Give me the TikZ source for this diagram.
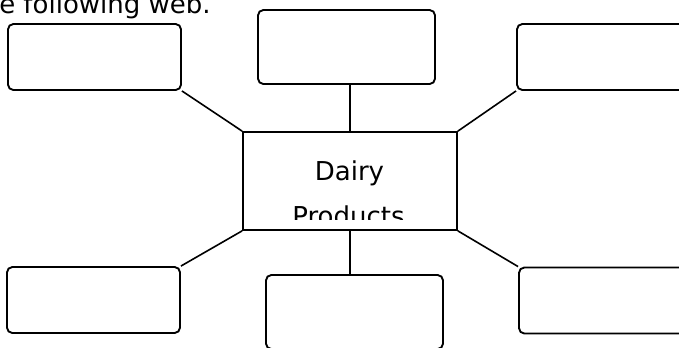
\documentclass[tikz,border=0pt]{standalone}
\usepackage{fontspec}
\setmainfont{DejaVu Sans}

\begin{document}
\begin{tikzpicture}[
    x=0.75pt, y=-0.75pt,
    sidebox/.style={draw, rounded corners=4pt, line width=1.4pt, minimum width=129.75pt, minimum height=49.5pt, inner sep=0pt},
    midbox/.style={draw, rounded corners=4pt, line width=1.4pt, minimum width=132.75pt, minimum height=55.5pt, inner sep=0pt},
    hub/.style={draw, line width=1.3pt, minimum width=160.5pt, minimum height=73.5pt, inner sep=0pt},
    word/.style={inner sep=0pt, font=\fontsize{19.5pt}{23pt}\selectfont},
    link/.style={line width=1.2pt}
]
\clip (0,0) rectangle (679,347);
\node[word, anchor=base west] (intro) at (-1,13) {e following web.};
\node[hub] (ctr) at (350,181) {};
\node[sidebox] (tl) at (94.5,57) {};
\node[midbox] (tm) at (346.5,47) {};
\node[sidebox] (tr) at (603.5,57) {};
\node[sidebox] (bl) at (93.5,300) {};
\node[midbox] (bm) at (354.5,312) {};
\node[sidebox] (br) at (605.5,300.5) {};
% text of the centre box, cut off at the bottom
\begin{scope}
\clip (ctr.north west) rectangle ([yshift=8.25pt]ctr.south east);
\node[word, anchor=base] (dairy) at (349.5,180) {Dairy};
\node[word, anchor=base] (products) at (348.5,225) {Products};
\end{scope}
\draw[link] (tl.south east) -- (ctr.north west);
\draw[link] (ctr.north |- tm.south) -- (ctr.north);
\draw[link] (tr.south west) -- (ctr.north east);
\draw[link] (ctr.south west) -- (bl.north east);
\draw[link] (ctr.south) -- (ctr.south |- bm.north);
\draw[link] (ctr.south east) -- (br.north west);
\end{tikzpicture}
\end{document}
